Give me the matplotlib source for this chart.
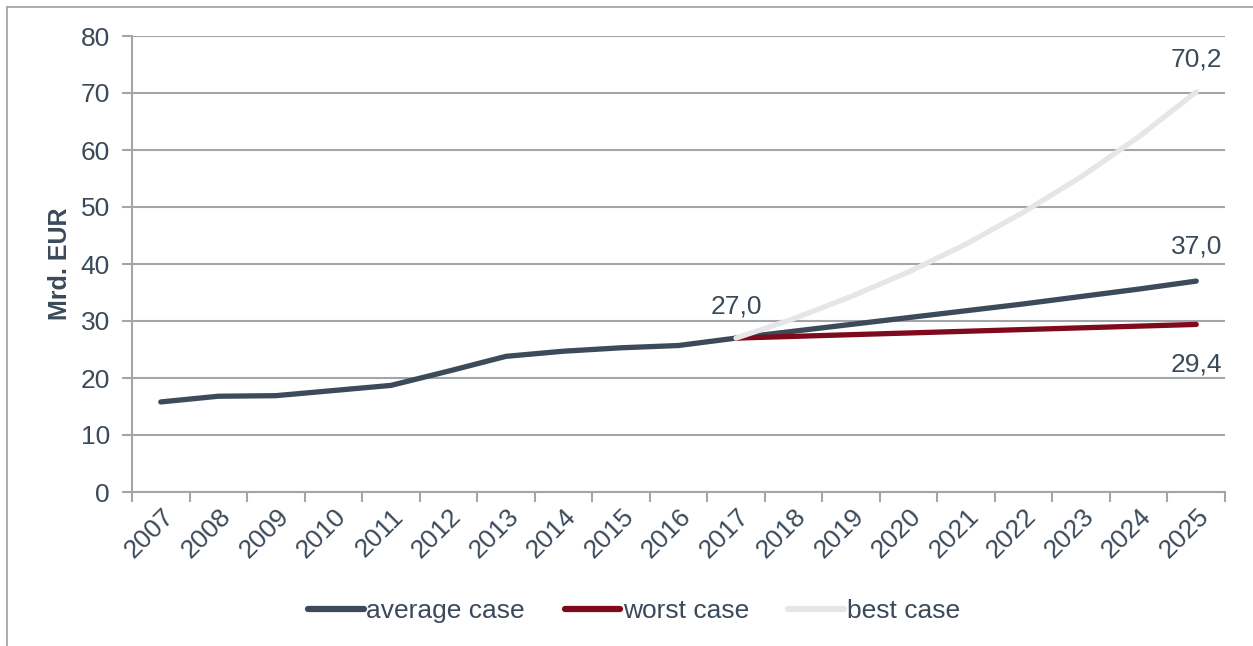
import matplotlib.pyplot as plt
from matplotlib.lines import Line2D
import matplotlib.transforms as mtransforms

plt.rcParams['font.family'] = ['Liberation Sans', 'DejaVu Sans']

# -------------------------------
# Data
# -------------------------------
years = [str(y) for y in range(2007, 2026)]

average_case = [15.8, 16.8, 16.9, 17.8, 18.7, 21.2, 23.8, 24.7, 25.3, 25.7,
                27.0, 28.2, 29.4, 30.6, 31.8, 33.0, 34.3, 35.6, 37.0]
worst_years = years[10:]
worst_case = [27.0, 27.3, 27.6, 27.9, 28.2, 28.5, 28.8, 29.1, 29.4]
best_years = years[10:]
best_case = [27.0, 30.4, 34.3, 38.6, 43.5, 49.1, 55.3, 62.3, 70.2]

# -------------------------------
# Style
# -------------------------------
TEXT = "#3b4a5a"
GRID = "#a3a6a9"
C_AVG = "#3c4a59"
C_WORST = "#7f0a1e"
C_BEST = "#e6e6e6"
FS = 19

fig = plt.figure(figsize=(12.53, 6.46), dpi=100)
ax = fig.add_axes([132 / 1253, 1 - 492 / 646, (1225 - 132) / 1253, (492 - 36) / 646])

# outer frame (left + top edge visible in the crop)
fig.add_artist(Line2D([7 / 1253, 7 / 1253], [0, 1 - 7 / 646], transform=fig.transFigure,
                      color="#a0a0a0", lw=1.2))
fig.add_artist(Line2D([7 / 1253, 1], [1 - 7 / 646, 1 - 7 / 646], transform=fig.transFigure,
                      color="#a0a0a0", lw=1.2))

xs = list(range(len(years)))
xw = [years.index(y) for y in worst_years]
xb = [years.index(y) for y in best_years]

ax.plot(xs, average_case, color=C_AVG, lw=3.8, solid_capstyle="round", zorder=3,
        label="average case")
ax.plot(xw, worst_case, color=C_WORST, lw=3.8, solid_capstyle="round", zorder=4,
        label="worst case")
ax.plot(xb, best_case, color=C_BEST, lw=3.8, solid_capstyle="round", zorder=5,
        label="best case")

ax.set_xlim(-0.5, len(years) - 0.5)
ax.set_ylim(0, 80)
ax.set_yticks(range(0, 81, 10))
ax.grid(axis="y", color=GRID, lw=1.5, zorder=1)
ax.set_axisbelow(True)

for s in ["top", "right"]:
    ax.spines[s].set_visible(False)
for s in ["left", "bottom"]:
    ax.spines[s].set_color(GRID)
    ax.spines[s].set_linewidth(1.5)

ax.tick_params(axis="y", colors=GRID, labelcolor=TEXT, labelsize=FS, length=7, width=1.5, pad=9)

# x: tick marks at category boundaries, labels at centers
ax.set_xticks([i - 0.5 for i in range(len(years) + 1)], minor=False)
ax.set_xticklabels([])
ax.tick_params(axis="x", which="major", colors=GRID, length=7, width=1.5)
ax.set_xticks(xs, minor=True)
ax.set_xticklabels(years, minor=True, rotation=45, ha="right", va="center",
                   rotation_mode="anchor", color=TEXT, fontsize=FS)
ax.tick_params(axis="x", which="minor", length=0, pad=15)
offset = mtransforms.ScaledTranslation(9 / 100, 0, fig.dpi_scale_trans)
for lab in ax.get_xticklabels(minor=True):
    lab.set_transform(lab.get_transform() + offset)

ax.set_ylabel("Mrd. EUR", fontsize=18, fontweight="bold", color=TEXT, labelpad=6)

# data labels
ax.annotate("27,0", (xs[10], average_case[10]), xytext=(0, 23), textcoords="offset points",
            ha="center", va="center", fontsize=FS, color=TEXT)
ax.annotate("70,2", (xb[-1], best_case[-1]), xytext=(0, 23), textcoords="offset points",
            ha="center", va="center", fontsize=FS, color=TEXT)
ax.annotate("37,0", (xs[-1], average_case[-1]), xytext=(0, 25), textcoords="offset points",
            ha="center", va="center", fontsize=FS, color=TEXT)
ax.annotate("29,4", (xw[-1], worst_case[-1]), xytext=(0, -29), textcoords="offset points",
            ha="center", va="center", fontsize=FS, color=TEXT)

leg = fig.legend(loc="center", bbox_to_anchor=(634 / 1253, 1 - 611 / 646), ncol=3, frameon=False,
                 fontsize=FS, handlelength=2.1, handletextpad=0.1, columnspacing=1.5)
for t in leg.get_texts():
    t.set_color(TEXT)
for h in leg.get_lines():
    h.set_linewidth(4.5)

fig.savefig("out.png", dpi=100)
